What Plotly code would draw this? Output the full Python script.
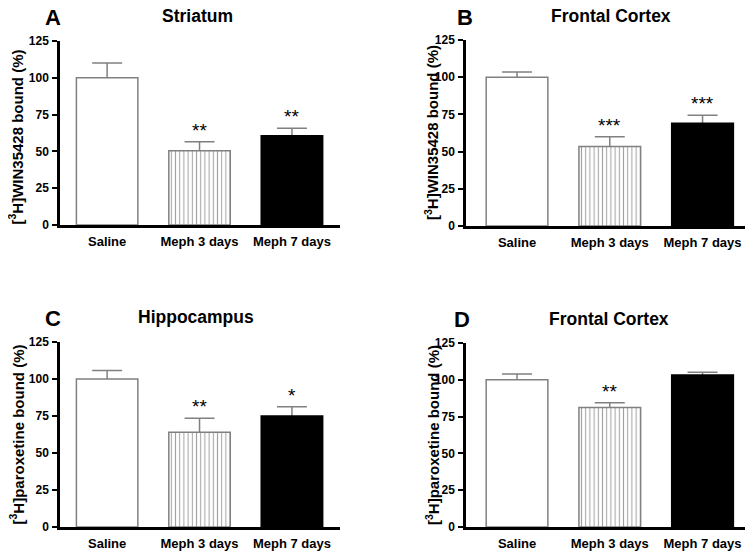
import plotly.graph_objects as go

categories = ["Saline", "Meph 3 days", "Meph 7 days"]

a_mean = [100, 50.5, 60.7]
a_sem = [10, 6, 5]
b_mean = [100, 53.5, 69]
b_sem = [3.5, 6.5, 5.5]
c_mean = [100, 64, 75]
c_sem = [5.8, 9.4, 6.3]
d_mean = [100, 81.2, 103.3]
d_sem = [4, 3.2, 1.8]

a_stars = ["", "**", "**"]
b_stars = ["", "***", "***"]
c_stars = ["", "**", "*"]
d_stars = ["", "**", ""]

panel_letters = ["A", "B", "C", "D"]
panel_titles = ["Striatum", "Frontal Cortex", "Hippocampus", "Frontal Cortex"]
y_titles = ["[<sup>3</sup>H]WIN35428 bound (%)", "[<sup>3</sup>H]WIN35428 bound (%)",
            "[<sup>3</sup>H]paroxetine bound (%)", "[<sup>3</sup>H]paroxetine bound (%)"]
y_ticks = [0, 25, 50, 75, 100, 125]

FONT = "Liberation Sans, Arial, sans-serif"
GRAY = "#808080"
# the page body has an 8px default margin: work in page pixels and shift
OFF = 8
W, H = 753 - OFF, 552 - OFF


def px(x):
    return (x - OFF) / W


def py(y):
    return 1 - (y - OFF) / H


panels = [
    (a_mean, a_sem, a_stars, "x", "y"),
    (b_mean, b_sem, b_stars, "x2", "y2"),
    (c_mean, c_sem, c_stars, "x3", "y3"),
    (d_mean, d_sem, d_stars, "x4", "y4"),
]

# page-pixel geometry of each panel: (x_left, x_right, y_zero, y_top)
geom = [
    (60, 340, 225, 41),
    (466, 748, 226, 40),
    (60, 340, 527, 342),
    (466, 748, 527, 343),
]
xranges = [[-0.51, 2.52], [-0.55, 2.49], [-0.51, 2.52], [-0.55, 2.49]]

fig = go.Figure()
annotations = []

for i, (mean, sem, stars, xa, ya) in enumerate(panels):
    # error bars (drawn first, lower half hidden under the bars below)
    fig.add_trace(go.Bar(
        x=categories, y=mean, xaxis=xa, yaxis=ya, width=0.665,
        marker=dict(color="rgba(0,0,0,0)", line=dict(width=0)),
        error_y=dict(type="data", array=sem, symmetric=True,
                     color=GRAY, thickness=1.5, width=15),
        showlegend=False, hoverinfo="skip"))
    # visible bars
    fig.add_trace(go.Bar(
        x=categories, y=mean, xaxis=xa, yaxis=ya, width=0.665,
        marker=dict(color=["white", "white", "black"],
                    line=dict(color=[GRAY, GRAY, "black"], width=1.5),
                    pattern=dict(shape=["", "|", ""], fgcolor=GRAY, bgcolor="white",
                                 fillmode="overlay", size=4.2, solidity=0.25)),
        showlegend=False))
    for c, m, s, st in zip(categories, mean, sem, stars):
        if st:
            annotations.append(dict(
                x=c, y=m + s, xref=xa, yref=ya, text=st, showarrow=False,
                yanchor="bottom", yshift=-1,
                font=dict(family=FONT, size=19, color="black")))

layout = dict(
    template="none",
    width=W, height=H, margin=dict(l=0, r=0, t=0, b=0, autoexpand=False),
    paper_bgcolor="white", plot_bgcolor="white",
    barmode="overlay", showlegend=False,
    font=dict(family=FONT, color="black"),
)

axis_names = [("xaxis", "yaxis"), ("xaxis2", "yaxis2"), ("xaxis3", "yaxis3"), ("xaxis4", "yaxis4")]
for i, (xn, yn) in enumerate(axis_names):
    xl, xr, y0, yt = geom[i]
    yid = "y" if i == 0 else f"y{i+1}"
    xid = "x" if i == 0 else f"x{i+1}"
    layout[xn] = dict(
        domain=[px(xl), min(px(xr), 1.0)], anchor=yid, range=xranges[i], automargin=False,
        showline=True, linecolor="black", linewidth=3, ticks="",
        showgrid=False, zeroline=False, fixedrange=True,
        tickfont=dict(family=FONT, size=13, color="black", weight="bold"),
        ticklabelstandoff=2,
    )
    layout[yn] = dict(
        domain=[py(y0), py(yt)], anchor=xid, range=[0, 125], automargin=False,
        tickvals=y_ticks, ticks="outside", ticklen=5, tickwidth=2, tickcolor="black",
        showline=True, linecolor="black", linewidth=2.5,
        showgrid=False, zeroline=False, fixedrange=True,
        tickfont=dict(family=FONT, size=12, color="black", weight="bold"),
        ticklabelstandoff=1,
    )

# panel letters and titles (page pixels)
letter_pos = [(53, 17), (465, 17), (53, 318), (462, 319)]
title_pos = [(197, 16), (611, 16), (196, 317), (609, 319)]
ytitle_pos = [(16.5, 137), (432, 133), (16.5, 435), (432, 435)]
for i in range(4):
    lx, ly = letter_pos[i]
    annotations.append(dict(
        x=px(lx), y=py(ly), xref="paper", yref="paper", text=panel_letters[i],
        showarrow=False, xanchor="center", yanchor="middle",
        font=dict(family=FONT, size=22, color="black", weight="bold")))
    tx, ty = title_pos[i]
    annotations.append(dict(
        x=px(tx), y=py(ty), xref="paper", yref="paper", text=panel_titles[i],
        showarrow=False, xanchor="center", yanchor="middle",
        font=dict(family=FONT, size=17.5, color="black", weight="bold")))
    yx, yy = ytitle_pos[i]
    annotations.append(dict(
        x=px(yx), y=py(yy), xref="paper", yref="paper", text=y_titles[i],
        showarrow=False, xanchor="center", yanchor="middle", textangle=-90,
        font=dict(family=FONT, size=15, color="black", weight="bold")))

layout["annotations"] = annotations
fig.update_layout(**layout)
fig.write_html("out.html")
